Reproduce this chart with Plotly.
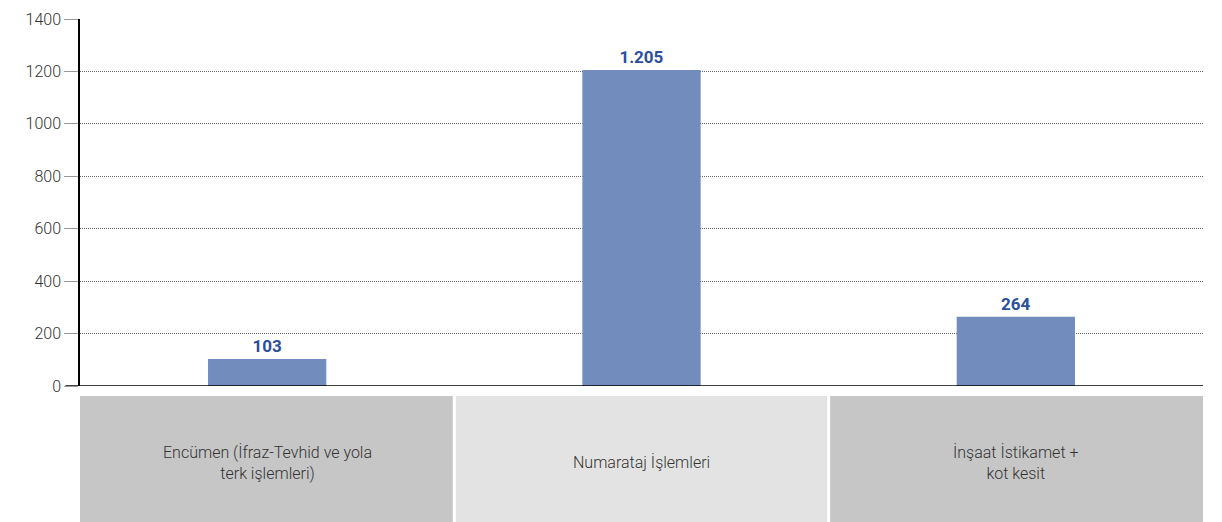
import plotly.graph_objects as go

categories = ["Encümen (İfraz-Tevhid ve yola<br>terk işlemleri)", "Numarataj İşlemleri", "İnşaat İstikamet +<br>kot kesit"]
values = [103, 1205, 264]
value_labels = ["103", "1.205", "264"]
box_colors = ["#c6c6c6", "#e3e3e3", "#c6c6c6"]
y_ticks = [0, 200, 400, 600, 800, 1000, 1200, 1400]

fig = go.Figure()
fig.add_trace(go.Bar(
    x=list(range(len(categories))), y=values,
    marker=dict(color="#728dbd", line=dict(width=0)),
    width=0.316,
    text=value_labels, textposition="outside",
    textfont=dict(family="Roboto", size=17, color="#2a4f9e", weight="bold"),
    cliponaxis=False,
))

for i, (c, col) in enumerate(zip(categories, box_colors)):
    fig.add_shape(type="rect", xref="x", yref="paper",
                  x0=i - 0.5 + (0.004 if i > 0 else 0), x1=i + 0.5 - (0.004 if i < 2 else 0),
                  y0=-0.38, y1=-0.027, fillcolor=col, line=dict(width=0), layer="below")
    fig.add_annotation(x=i, y=-0.208, xref="x", yref="paper", yanchor="middle", text=c,
                       showarrow=False,
                       font=dict(family="Roboto", size=16, color="#333333", weight=300),
                       align="center")

fig.update_layout(
    width=1222, height=522,
    margin=dict(l=80, r=19, t=19, b=136, autoexpand=False),
    plot_bgcolor="white", paper_bgcolor="white",
    showlegend=False,
    xaxis=dict(range=[-0.5, 2.5], showticklabels=False, showgrid=False, zeroline=False,
               showline=False, ticks=""),
    yaxis=dict(range=[0, 1400], tickvals=y_ticks, showgrid=True, gridcolor="#666666",
               griddash="1px,1px", gridwidth=1, zeroline=False, showline=True, linecolor="black",
               linewidth=1.5, ticks="outside", ticklen=14, tickcolor="#999999",
               tickfont=dict(family="Roboto", size=16, color="#333333", weight=300)),
)
fig.add_shape(type="line", xref="paper", yref="y", x0=-0.013, x1=1, y0=0, y1=0,
              line=dict(color="black", width=1.5))
fig.write_html("out.html", config={"displayModeBar": False},
               post_script="document.body.style.margin='0';document.body.style.overflow='hidden';")
